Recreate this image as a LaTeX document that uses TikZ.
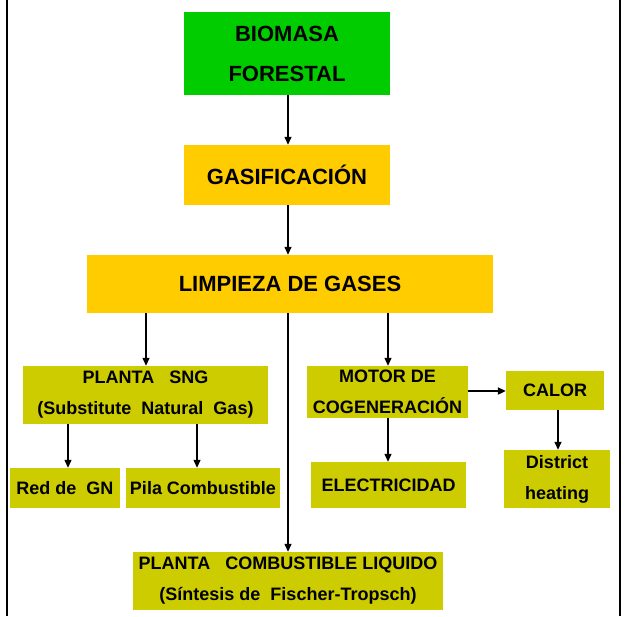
\documentclass[tikz,border=0pt]{standalone}
\usepackage{fontspec}
\setmainfont{Liberation Sans}
\usetikzlibrary{arrows.meta}
\definecolor{cgreen}{HTML}{00CC00}
\definecolor{corange}{HTML}{FFCC00}
\definecolor{colive}{HTML}{CCCC00}
\tikzset{
  box/.style={inner sep=0pt, align=center, font=\bfseries\fontsize{18}{31}\selectfont},
  bigbox/.style={box, font=\bfseries\fontsize{22}{40}\selectfont},
  arr/.style={line width=1.3pt, -{Triangle[length=8pt,width=7pt]}},
  frameline/.style={line width=2pt}
}
\begin{document}
\begin{tikzpicture}[x=1pt,y=-1pt]
\useasboundingbox (0,0) rectangle (629,616);
% frame
\coordinate (fl1) at (7,0); \coordinate (fl2) at (7,616);
\coordinate (fr1) at (620,0); \coordinate (fr2) at (620,616);
\draw[frameline] (fl1) -- (fl2);
\draw[frameline] (fr1) -- (fr2);
% nodes
\node[bigbox, fill=cgreen, minimum width=206, minimum height=83] (bio) at (287,53.5) {BIOMASA\\FORESTAL};
\node[bigbox, fill=corange, minimum width=206, minimum height=60] (gas) at (287,175) {GASIFICACIÓN};
\node[bigbox, fill=corange, minimum width=406, minimum height=58] (limp) at (290,284) {LIMPIEZA DE GASES};
\node[box, fill=colive, minimum width=245, minimum height=58] (sng) at (145.5,395) {PLANTA\ \ \ SNG\\(Substitute\ \ Natural\ \ Gas)};
\node[box, fill=colive, minimum width=110, minimum height=40] (red) at (65,488) {Red de\ \ GN};
\node[box, fill=colive, minimum width=154, minimum height=40] (pila) at (203,488) {Pila Combustible};
\node[box, fill=colive, minimum width=161, minimum height=52] (motor) at (387.5,392) {MOTOR DE\\COGENERACIÓN};
\node[box, fill=colive, minimum width=98, minimum height=39] (calor) at (555,390.5) {CALOR};
\node[box, fill=colive, minimum width=106, minimum height=58] (dist) at (557,479) {District\\heating};
\node[box, fill=colive, minimum width=155, minimum height=46] (elec) at (388.5,485) {ELECTRICIDAD};
\node[box, fill=colive, minimum width=310, minimum height=58] (plc) at (288,581) {PLANTA\ \ \ COMBUSTIBLE LIQUIDO\\(Síntesis de\ \ Fischer-Tropsch)};
% connectors
\draw[arr] (bio.south -| 288,0) -- (gas.north -| 288,0);
\draw[arr] (gas.south -| 288,0) -- (limp.north -| 288,0);
\draw[arr] (limp.south -| 146,0) -- (sng.north -| 146,0);
\draw[arr] (limp.south -| 288,0) -- (plc.north -| 288,0);
\draw[arr] (limp.south -| 388,0) -- (motor.north -| 388,0);
\draw[arr] (sng.south -| 68,0) -- (red.north -| 68,0);
\draw[arr] (sng.south -| 197,0) -- (pila.north -| 197,0);
\draw[arr] (motor.south -| 388,0) -- (elec.north -| 388,0);
\draw[arr, line width=2.2pt] (motor.east |- 0,391) -- (calor.west |- 0,391);
\draw[arr] (calor.south -| 558,0) -- (dist.north -| 558,0);
\end{tikzpicture}
\end{document}
